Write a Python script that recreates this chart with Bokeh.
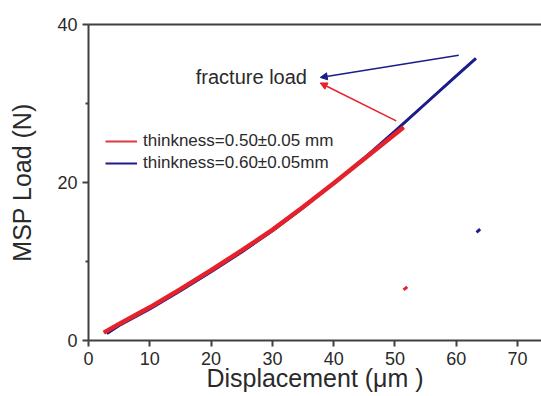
from bokeh.plotting import figure
from bokeh.models import (Range1d, FixedTicker, LinearAxis, Legend, LegendItem,
                          Arrow, NormalHead, Label)
from bokeh.embed import file_html
from bokeh.resources import INLINE

# ---- data ----
red_x = [2.5, 5, 10, 15, 20, 25, 30, 35, 40, 45, 51.4]
red_y = [1.0, 2.1, 4.2, 6.5, 8.9, 11.4, 14.0, 16.9, 19.9, 23.0, 27.0]
blue_x = [3, 5, 10, 15, 20, 25, 30, 35, 40, 45, 50, 55, 60, 63.2]
blue_y = [0.9, 1.9, 4.0, 6.3, 8.7, 11.2, 13.9, 16.8, 19.9, 23.1, 26.5, 30.0, 33.5, 35.7]
red_after_x = [51.4, 52.0]
red_after_y = [6.4, 6.8]
blue_after_x = [63.3, 63.9]
blue_after_y = [13.7, 14.1]
red_label = "thinkness=0.50\u00b10.05 mm"
blue_label = "thinkness=0.60\u00b10.05mm"
annot_text = "fracture load"
annot_pos = (17.5, 33.4)
blue_arrow = (60.4, 36.1, 37.8, 33.3)
red_arrow = (50.2, 27.8, 37.8, 32.6)
x_ticks = [0, 10, 20, 30, 40, 50, 60, 70]
y_ticks = [0, 20, 40]
y_minor = [10, 30]

RED = "#e5222b"
BLUE = "#1c1c8a"
AX = "#404040"
TXT = "#2a2a2a"
FONT = "Liberation Sans"

p = figure(width=541, height=396, output_backend="svg", toolbar_location=None,
           x_range=Range1d(0, 73.9), y_range=Range1d(0, 40),
           min_border_left=88, min_border_right=0, min_border_top=24,
           min_border_bottom=56)
p.outline_line_color = None
p.grid.visible = False
p.background_fill_color = "white"

p.line(blue_x, blue_y, line_color=BLUE, line_width=3)
# thin copies (hidden under the thick curves) used for the legend swatches
leg_b = p.line(blue_x, blue_y, line_color=BLUE, line_width=2)
leg_r = p.line(red_x, red_y, line_color="#e0383f", line_width=2)
p.line(red_x, red_y, line_color=RED, line_width=4.5)
p.line(red_after_x, red_after_y, line_color=RED, line_width=3)
p.line(blue_after_x, blue_after_y, line_color=BLUE, line_width=3)

for ax in (p.xaxis[0], p.yaxis[0]):
    ax.axis_line_color = AX
    ax.axis_line_width = 2
    ax.major_tick_line_color = AX
    ax.major_tick_line_width = 2
    ax.minor_tick_line_color = AX
    ax.minor_tick_line_width = 2
    ax.major_tick_in = 0
    ax.major_tick_out = 6
    ax.minor_tick_in = 0
    ax.minor_tick_out = 3
    ax.major_label_text_font = FONT
    ax.major_label_text_font_size = "18px"
    ax.major_label_text_color = TXT
    ax.axis_label_text_font = FONT
    ax.axis_label_text_font_size = "25px"
    ax.axis_label_text_font_style = "normal"
    ax.axis_label_text_color = TXT

p.xaxis[0].ticker = FixedTicker(ticks=x_ticks, minor_ticks=[])
p.yaxis[0].ticker = FixedTicker(ticks=y_ticks, minor_ticks=y_minor)
p.xaxis[0].axis_label = "Displacement (\u03bcm )"
p.yaxis[0].axis_label = "MSP Load (N)"
p.xaxis[0].axis_label_standoff = -4
p.yaxis[0].axis_label_standoff = 18

top = LinearAxis(ticker=FixedTicker(ticks=[]), axis_line_color=AX, axis_line_width=2,
                 major_label_text_font_size="0px", major_tick_line_color=None,
                 minor_tick_line_color=None)
p.add_layout(top, "above")

p.add_layout(Arrow(end=NormalHead(size=7, fill_color=BLUE, line_color=BLUE),
                   x_start=blue_arrow[0], y_start=blue_arrow[1],
                   x_end=blue_arrow[2], y_end=blue_arrow[3],
                   line_color=BLUE, line_width=1.5))
p.add_layout(Arrow(end=NormalHead(size=7, fill_color=RED, line_color=RED),
                   x_start=red_arrow[0], y_start=red_arrow[1],
                   x_end=red_arrow[2], y_end=red_arrow[3],
                   line_color=RED, line_width=1.5))
p.add_layout(Label(x=annot_pos[0], y=annot_pos[1], text=annot_text,
                   text_font=FONT, text_font_size="20px", text_color=TXT,
                   text_baseline="middle", text_align="left"))

legend = Legend(items=[LegendItem(label=red_label, renderers=[leg_r]),
                       LegendItem(label=blue_label, renderers=[leg_b])],
                location=(17, 166), padding=0, margin=0, spacing=0,
                glyph_width=32, glyph_height=22, label_height=22,
                label_standoff=6, label_text_font=FONT,
                label_text_font_size="17px", label_text_color=TXT,
                border_line_color=None, background_fill_alpha=0)
p.add_layout(legend, "center")

open("out.html", "w").write(file_html(p, INLINE))
